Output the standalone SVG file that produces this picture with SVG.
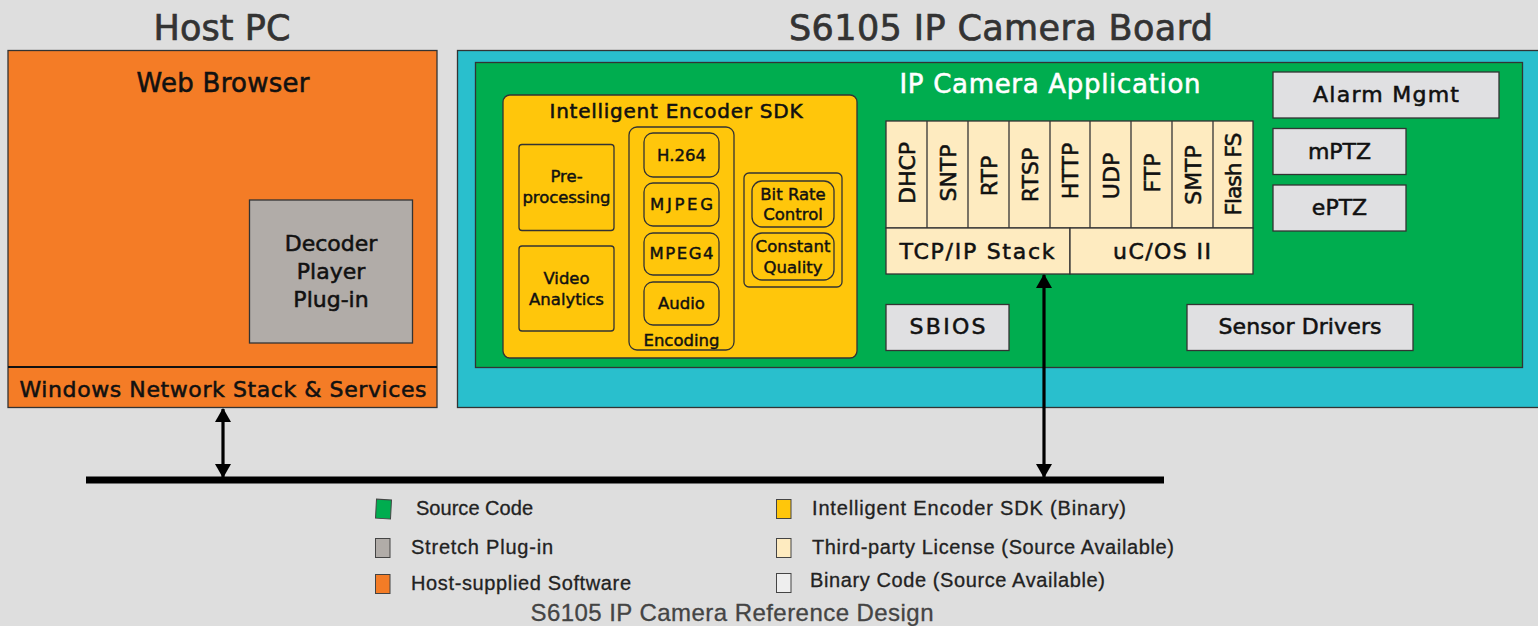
<svg xmlns="http://www.w3.org/2000/svg" width="1538" height="626" viewBox="0 0 1538 626">
<defs>
<style>
text{font-family:"DejaVu Sans","Liberation Sans",Arial,sans-serif;fill:#111;stroke:#111;stroke-width:0.55px;}
.title{font-size:35px;fill:#333;stroke:#333;stroke-width:0.7px;text-anchor:middle;}
.big{font-size:26px;text-anchor:middle;}
.white{fill:#fff;stroke:#fff;}
.lbl{font-size:22px;text-anchor:middle;}
.sm{font-size:16.5px;text-anchor:middle;stroke-width:0.45px;}
.leg{font-family:"Liberation Sans",Arial,sans-serif;font-size:20px;fill:#222;stroke:#222;stroke-width:0.3px;}
.foot{font-family:"Liberation Sans",Arial,sans-serif;font-size:24px;fill:#444;stroke:#444;stroke-width:0.3px;text-anchor:middle;}
.box{stroke:#333;stroke-width:1.3;}
.lg{fill:#e0e0e2;}
.cream{fill:#feebc0;}
.yel{fill:#ffc60b;}
.rr{fill:none;stroke:#333;stroke-width:1.3;}
.key{stroke:#444;stroke-width:1;}
</style>
<marker id="ah" viewBox="0 0 14 16" refX="13" refY="8" markerWidth="14" markerHeight="16" markerUnits="userSpaceOnUse" orient="auto-start-reverse">
<path d="M0,0 L14,8 L0,16 Z" fill="#000"/>
</marker>
</defs>
<rect x="0" y="0" width="1538" height="626" fill="#dedede"/>

<g id="host-pc">
<text class="title" x="222" y="40" textLength="137">Host PC</text>
<rect class="box" x="8" y="50.5" width="429" height="357" fill="#f47c26"/>
<line x1="8" y1="367" x2="437" y2="367" stroke="#111" stroke-width="2"/>
<text class="big" x="223" y="92" textLength="173">Web Browser</text>
<text class="lbl" x="223" y="397" font-size="23" textLength="407">Windows Network Stack &amp; Services</text>
</g>

<g id="decoder-plugin">
<rect class="box" x="249.5" y="200" width="163" height="143" fill="#b1aca8"/>
<text class="lbl" x="331" y="251" font-size="21">Decoder</text>
<text class="lbl" x="331" y="279" font-size="21">Player</text>
<text class="lbl" x="331" y="307" font-size="21">Plug-in</text>
</g>

<g id="camera-board">
<text class="title" x="1001" y="40" textLength="424">S6105 IP Camera Board</text>
<rect class="box" x="457.5" y="50.5" width="1090" height="357" fill="#29bfcd"/>
</g>

<g id="ip-camera-app">
<rect class="box" x="475.5" y="62.5" width="1047" height="305" fill="#00ad4f"/>
<text class="big white" x="1050" y="93" textLength="301">IP Camera Application</text>
</g>

<g id="encoder-sdk">
<rect class="box yel" x="503" y="95" width="354" height="263" rx="7"/>
<text x="676" y="118" font-size="20" text-anchor="middle" textLength="253">Intelligent Encoder SDK</text>
</g>
<g id="preprocessing">
<rect class="rr" x="519" y="144.5" width="95" height="86" rx="3"/>
<text class="sm" x="566.5" y="182">Pre-</text>
<text class="sm" x="566.5" y="203" textLength="88">processing</text>
</g>
<g id="video-analytics">
<rect class="rr" x="519" y="246" width="95" height="85" rx="3"/>
<text class="sm" x="566.5" y="284">Video</text>
<text class="sm" x="566.5" y="305">Analytics</text>
</g>
<g id="encoding">
<rect class="rr" x="629" y="127" width="105" height="223" rx="8"/>
<text class="sm" x="681.5" y="346">Encoding</text>
</g>
<g id="h264"><rect class="rr" x="644" y="133" width="75" height="44" rx="9"/><text class="sm" x="681.5" y="161">H.264</text></g>
<g id="mjpeg"><rect class="rr" x="644" y="183" width="75" height="43" rx="9"/><text class="sm" x="681.5" y="210" textLength="63">MJPEG</text></g>
<g id="mpeg4"><rect class="rr" x="644" y="233" width="75" height="42" rx="9"/><text class="sm" x="681.5" y="259" textLength="64">MPEG4</text></g>
<g id="audio"><rect class="rr" x="644" y="282" width="75" height="43" rx="9"/><text class="sm" x="681.5" y="309">Audio</text></g>
<g id="rate-control">
<rect class="rr" x="744" y="173" width="98" height="114" rx="5"/>
</g>
<g id="bit-rate"><rect class="rr" x="752" y="181" width="82" height="46" rx="10"/><text class="sm" x="793" y="200">Bit Rate</text><text class="sm" x="793" y="220">Control</text></g>
<g id="constant-quality"><rect class="rr" x="752" y="233" width="82" height="47" rx="10"/><text class="sm" x="793" y="252" textLength="75">Constant</text><text class="sm" x="793" y="273">Quality</text></g>

<g id="protocol-stack">
<rect class="box cream" x="886" y="121" width="367" height="107"/>
<g stroke="#333" stroke-width="1.3">
<line x1="927" y1="121" x2="927" y2="228"/>
<line x1="968" y1="121" x2="968" y2="228"/>
<line x1="1009" y1="121" x2="1009" y2="228"/>
<line x1="1050" y1="121" x2="1050" y2="228"/>
<line x1="1090" y1="121" x2="1090" y2="228"/>
<line x1="1131" y1="121" x2="1131" y2="228"/>
<line x1="1172" y1="121" x2="1172" y2="228"/>
<line x1="1213" y1="121" x2="1213" y2="228"/>
</g>
<text class="lbl" transform="translate(914.5,173) rotate(-90)">DHCP</text>
<text class="lbl" transform="translate(955.5,173) rotate(-90)">SNTP</text>
<text class="lbl" transform="translate(996.5,176) rotate(-90)">RTP</text>
<text class="lbl" transform="translate(1037.5,175) rotate(-90)">RTSP</text>
<text class="lbl" transform="translate(1078,171) rotate(-90)">HTTP</text>
<text class="lbl" transform="translate(1118.5,176) rotate(-90)">UDP</text>
<text class="lbl" transform="translate(1159.5,173) rotate(-90)">FTP</text>
<text class="lbl" transform="translate(1200.5,175) rotate(-90)">SMTP</text>
<text class="lbl" transform="translate(1241,174) rotate(-90)" textLength="83">Flash FS</text>
</g>
<g id="tcpip-stack">
<rect class="box cream" x="886" y="228" width="184" height="46"/>
<text class="lbl" x="977" y="259" textLength="155">TCP/IP Stack</text>
</g>
<g id="ucos">
<rect class="box cream" x="1070" y="228" width="183" height="46"/>
<text class="lbl" x="1162" y="259" textLength="98">uC/OS II</text>
</g>

<g id="alarm-mgmt"><rect class="box lg" x="1273" y="72" width="226" height="46"/><text class="lbl" x="1386" y="102" textLength="146">Alarm Mgmt</text></g>
<g id="mptz"><rect class="box lg" x="1273" y="128.5" width="133" height="46"/><text class="lbl" x="1339.5" y="159">mPTZ</text></g>
<g id="eptz"><rect class="box lg" x="1273" y="185" width="133" height="46"/><text class="lbl" x="1339.5" y="215">ePTZ</text></g>
<g id="sensor-drivers"><rect class="box lg" x="1187" y="304.5" width="226" height="46"/><text class="lbl" x="1300" y="334" textLength="163">Sensor Drivers</text></g>
<g id="sbios"><rect class="box lg" x="886" y="304.5" width="123" height="46"/><text class="lbl" x="947.5" y="334" textLength="76">SBIOS</text></g>

<g id="network-bus">
<rect x="86" y="476.5" width="1078" height="7" fill="#000"/>
</g>

<g id="connectors" stroke="#000" stroke-width="3.2" fill="none">
<line x1="223" y1="409" x2="223" y2="477" marker-start="url(#ah)" marker-end="url(#ah)"/>
<line x1="1044" y1="275" x2="1044" y2="477" marker-start="url(#ah)" marker-end="url(#ah)"/>
</g>

<g id="legend">
<rect class="key" x="376" y="499.5" width="15" height="19" fill="#00ad4f" transform="rotate(3 383 509)"/>
<text class="leg" x="416" y="515" textLength="117">Source Code</text>
<rect class="key" x="375.5" y="538.5" width="14.5" height="19" fill="#b1aca8"/>
<text class="leg" x="411" y="554" textLength="142">Stretch Plug-in</text>
<rect class="key" x="375.5" y="574.5" width="14.5" height="19" fill="#f47c26"/>
<text class="leg" x="411" y="590" textLength="220">Host-supplied Software</text>
<rect class="key" x="776.5" y="499.5" width="14.5" height="19" fill="#ffc60b"/>
<text class="leg" x="812" y="515" textLength="314">Intelligent Encoder SDK (Binary)</text>
<rect class="key" x="776.5" y="538.5" width="14.5" height="19" fill="#feebc0"/>
<text class="leg" x="812" y="554" textLength="362">Third-party License (Source Available)</text>
<rect class="key" x="776.5" y="573.5" width="14.5" height="19" fill="#eeeeee"/>
<text class="leg" x="810" y="587" textLength="295">Binary Code (Source Available)</text>
<text class="foot" x="732" y="621" textLength="403">S6105 IP Camera Reference Design</text>
</g>
</svg>
